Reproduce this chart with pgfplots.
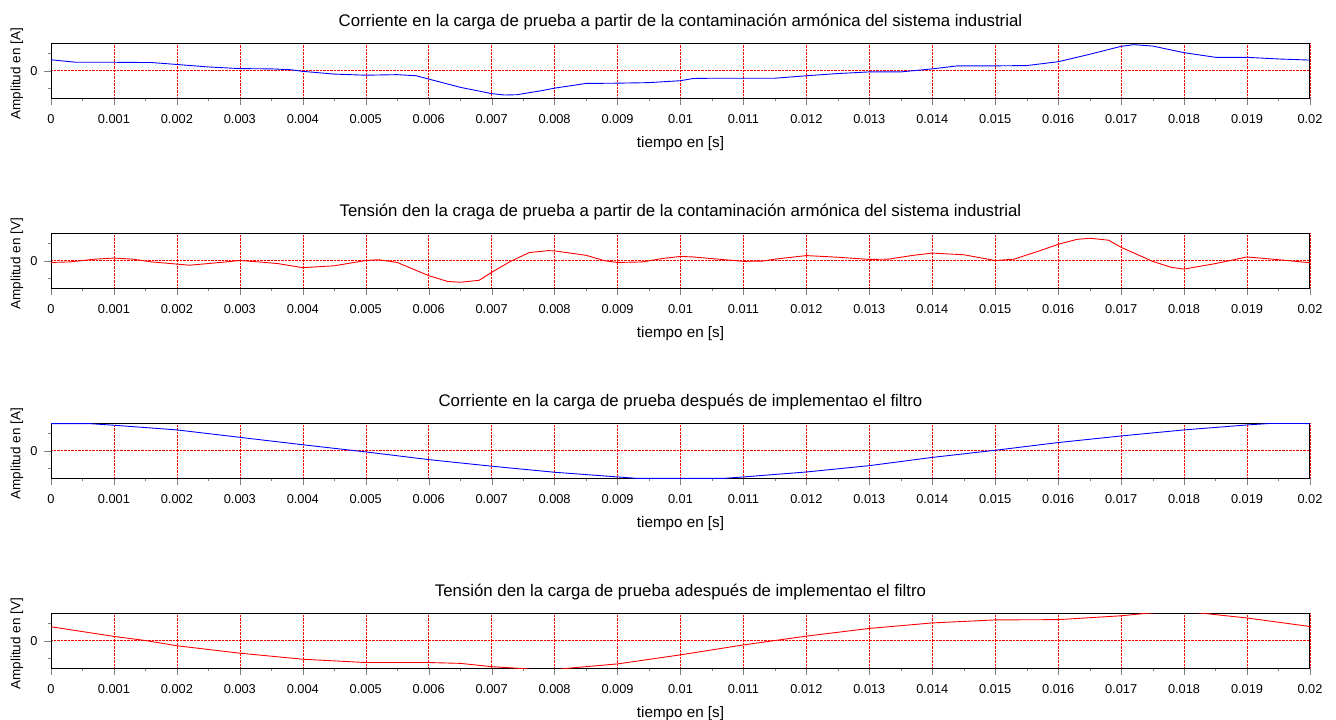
\documentclass[border=0pt]{standalone}
\usepackage{fontspec}
\setmainfont{Liberation Sans}
\usepackage{pgfplots}
\pgfplotsset{compat=1.18}
\pgfplotsset{myax/.style={
  scale only axis, width=1259pt, height=55pt,
  xmin=0, xmax=0.02, ymin=-1, ymax=1,
  xtick={0,0.001,0.002,0.003,0.004,0.005,0.006,0.007,0.008,0.009,0.01,0.011,0.012,0.013,0.014,0.015,0.016,0.017,0.018,0.019,0.02},
  xticklabels={0,0.001,0.002,0.003,0.004,0.005,0.006,0.007,0.008,0.009,0.01,0.011,0.012,0.013,0.014,0.015,0.016,0.017,0.018,0.019,0.02},
  minor x tick num=1,
  ytick={0}, yticklabels={0}, minor ytick={-0.63,0.63},
  scaled x ticks=false, scaled y ticks=false,
  tick align=outside, tick pos=left,
  major tick length=7pt, minor tick length=3pt,
  xmajorgrids, x grid style={red, densely dotted},
  ymajorgrids, y grid style={red, densely dotted, line width=0.8pt},
  axis line style={line width=1pt},
  xticklabel style={font=\fontsize{12.8}{14}\selectfont, anchor=center, yshift=-14pt},
  yticklabel style={font=\fontsize{12.8}{14}\selectfont, anchor=center, xshift=-10pt},
  title style={font=\fontsize{16.8}{19}\selectfont, at={(0.5,1)}, anchor=base, yshift=11pt},
  xlabel style={font=\fontsize{15.2}{17}\selectfont, at={(axis description cs:0.5,0)}, anchor=base, yshift=-49pt},
  ylabel style={font=\fontsize{13.5}{16}\selectfont, at={(axis description cs:0,0.5)}, anchor=center, yshift=34pt, xshift=-3pt},
  xlabel={tiempo en [s]},
  clip=true,
}}
\begin{document}
\begin{tikzpicture}
\path[use as bounding box] (0,0) rectangle (1336pt,-720pt);
% Plot 1
\begin{axis}[myax, at={(51pt,-43.3pt)}, anchor=north west,
  title={Corriente en la carga de prueba a partir de la contaminación armónica del sistema industrial},
  ylabel={Amplitud en [A]}]
\addplot[blue, line width=0.9pt] coordinates {
(0,0.40)(0.0004,0.31)(0.001,0.31)(0.0016,0.30)(0.002,0.23)(0.0025,0.14)(0.003,0.08)(0.0035,0.07)(0.0038,0.04)(0.004,-0.02)(0.0045,-0.12)(0.005,-0.16)(0.0055,-0.14)(0.0058,-0.18)(0.006,-0.30)(0.0065,-0.60)(0.007,-0.83)(0.0072,-0.88)(0.0074,-0.87)(0.0078,-0.72)(0.008,-0.63)(0.0085,-0.46)(0.009,-0.45)(0.0095,-0.43)(0.01,-0.36)(0.0102,-0.28)(0.0105,-0.27)(0.011,-0.27)(0.0115,-0.27)(0.012,-0.18)(0.0125,-0.10)(0.013,-0.04)(0.0135,-0.04)(0.014,0.07)(0.0144,0.18)(0.015,0.18)(0.0155,0.19)(0.016,0.33)(0.0165,0.60)(0.017,0.89)(0.0172,0.95)(0.0175,0.90)(0.018,0.66)(0.0185,0.49)(0.019,0.49)(0.0195,0.43)(0.02,0.39)};
\end{axis}
% Plot 2
\begin{axis}[myax, at={(51pt,-233.3pt)}, anchor=north west,
  title={Tensión den la craga de prueba a partir de la contaminación armónica del sistema industrial},
  ylabel={Amplitud en [V]}]
\addplot[red, line width=0.9pt] coordinates {
(0,-0.06)(0.0003,-0.04)(0.0007,0.06)(0.001,0.10)(0.0013,0.06)(0.0016,-0.04)(0.002,-0.12)(0.0022,-0.16)(0.0025,-0.10)(0.003,0.01)(0.0033,-0.04)(0.0036,-0.10)(0.004,-0.25)(0.0045,-0.18)(0.005,0.01)(0.0052,0.04)(0.0055,-0.06)(0.006,-0.54)(0.0063,-0.75)(0.0065,-0.78)(0.0068,-0.71)(0.007,-0.42)(0.0073,-0.02)(0.0076,0.30)(0.0079,0.37)(0.008,0.36)(0.0085,0.20)(0.0088,0.0)(0.009,-0.06)(0.0094,-0.04)(0.0097,0.08)(0.01,0.16)(0.0102,0.14)(0.0105,0.08)(0.011,-0.02)(0.0113,-0.01)(0.0115,0.06)(0.012,0.19)(0.0125,0.13)(0.013,0.05)(0.0133,0.06)(0.0137,0.20)(0.014,0.28)(0.0145,0.22)(0.015,0.01)(0.0153,0.06)(0.0157,0.36)(0.016,0.60)(0.0163,0.78)(0.0165,0.82)(0.0168,0.75)(0.017,0.49)(0.0175,-0.02)(0.0178,-0.24)(0.018,-0.30)(0.0185,-0.10)(0.019,0.14)(0.0195,0.04)(0.02,-0.07)};
\end{axis}
% Plot 3
\begin{axis}[myax, at={(51pt,-423.3pt)}, anchor=north west,
  title={Corriente en la carga de prueba después de implementao el filtro},
  ylabel={Amplitud en [A]}]
\addplot[blue, line width=0.9pt] coordinates {
(0,0.99)(0.0006,0.99)(0.001,0.93)(0.002,0.76)(0.003,0.49)(0.004,0.22)(0.005,-0.04)(0.006,-0.32)(0.007,-0.56)(0.008,-0.78)(0.009,-0.95)(0.0093,-1.0)(0.0107,-1.0)(0.011,-0.95)(0.012,-0.77)(0.013,-0.54)(0.014,-0.24)(0.015,0.02)(0.016,0.30)(0.017,0.54)(0.018,0.76)(0.019,0.94)(0.0194,1.0)(0.02,0.99)};
\end{axis}
% Plot 4
\begin{axis}[myax, at={(51pt,-613.3pt)}, anchor=north west,
  title={Tensión den la carga de prueba adespués de implementao el filtro},
  ylabel={Amplitud en [V]}]
\addplot[red, line width=0.9pt] coordinates {
(0,0.51)(0.001,0.16)(0.0015,0.01)(0.002,-0.18)(0.003,-0.45)(0.004,-0.67)(0.005,-0.79)(0.006,-0.79)(0.0065,-0.82)(0.007,-0.94)(0.0075,-1.01)(0.0079,-1.1)(0.0082,-1.0)(0.009,-0.84)(0.01,-0.51)(0.0105,-0.33)(0.011,-0.15)(0.012,0.17)(0.013,0.45)(0.014,0.65)(0.015,0.76)(0.016,0.77)(0.017,0.91)(0.0174,1.0)(0.0179,1.08)(0.0183,1.0)(0.019,0.83)(0.02,0.52)};
\end{axis}
\end{tikzpicture}
\end{document}
